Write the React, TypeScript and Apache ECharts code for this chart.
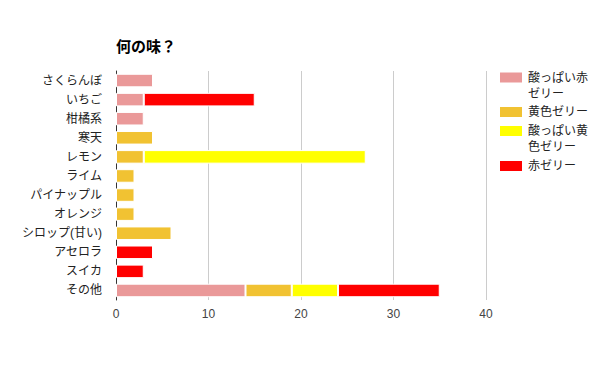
import React, { useEffect, useRef } from "react";
import * as echarts from "echarts";

const categories = [
  "さくらんぼ", "いちご", "柑橘系", "寒天", "レモン", "ライム", "パイナップル",
  "オレンジ", "シロップ(甘い)", "アセロラ", "スイカ", "その他",
];
const seriesNames = ["酸っぱい赤ゼリー", "黄色ゼリー", "酸っぱい黄色ゼリー", "赤ゼリー"];
const legendLabels = ["酸っぱい赤\nゼリー", "黄色ゼリー", "酸っぱい黄\n色ゼリー", "赤ゼリー"];
const colors = ["#ea9999", "#f1c232", "#ffff00", "#ff0000"];
const sourPink = [4, 3, 3, 0, 0, 0, 0, 0, 0, 0, 0, 14];
const yellowOrange = [0, 0, 0, 4, 3, 2, 2, 2, 6, 0, 0, 5];
const sourYellow = [0, 0, 0, 0, 24, 0, 0, 0, 0, 0, 0, 5];
const red = [0, 12, 0, 0, 0, 0, 0, 0, 0, 4, 3, 11];
const xTicks = [0, 10, 20, 30, 40];
const title = "何の味？";

const FONT = 'Arial, "Liberation Sans", "Noto Sans CJK JP", sans-serif';

export default function App() {
  const ref = useRef<HTMLDivElement>(null);
  useEffect(() => {
    if (!ref.current) return;
    const chart = echarts.init(ref.current, undefined, { renderer: "svg" });
    const allValues = [sourPink, yellowOrange, sourYellow, red];
    const twoLine = legendLabels.map((l) => l.includes("\n"));
    const iconTops = [71.5, 106, 125, 160];
    chart.setOption({
      animation: false,
      title: {
        text: title,
        left: 111,
        top: 34,
        textStyle: { fontFamily: FONT, fontSize: 15, fontWeight: "bold", color: "#000" },
      },
      legend: seriesNames.map((n, i) => ({
        data: [n],
        left: 498,
        top: iconTops[i] - (twoLine[i] ? 18 : 2),
        padding: 0,
        orient: "vertical",
        itemWidth: 24,
        itemHeight: 12,
        itemGap: 5,
        icon: "rect",
        formatter: () => (twoLine[i] ? "\n" + legendLabels[i] : legendLabels[i]),
        textStyle: {
          fontFamily: FONT,
          fontSize: 12,
          color: "#222",
          lineHeight: 16,
        },
      })),
      grid: { left: 116, right: 114, top: 71, bottom: 71, containLabel: false },
      xAxis: {
        type: "value",
        min: xTicks[0],
        max: xTicks[xTicks.length - 1],
        interval: 10,
        axisLine: { show: false },
        axisTick: { show: false },
        splitLine: { show: true, lineStyle: { color: "#cccccc", width: 1 } },
        axisLabel: { fontFamily: FONT, fontSize: 12, color: "#444", margin: 8 },
      },
      yAxis: {
        type: "category",
        data: categories,
        inverse: true,
        axisLine: { show: true, lineStyle: { color: "#333", width: 1 } },
        axisTick: { show: false },
        axisLabel: { fontFamily: FONT, fontSize: 12, color: "#222", margin: 14 },
      },
      series: seriesNames.map((n, i) => ({
        name: n,
        type: "bar",
        stack: "total",
        barCategoryGap: "29%",
        itemStyle: { color: colors[i], borderColor: "#fff", borderWidth: 1 },
        data: allValues[i].map((v) => (v === 0 ? "-" : v)),
      })),
    });
    return () => chart.dispose();
  }, []);
  return (
    <div
      ref={ref}
      style={{ position: "fixed", left: 0, top: 0, width: 600, height: 371, background: "#fff" }}
    />
  );
}
